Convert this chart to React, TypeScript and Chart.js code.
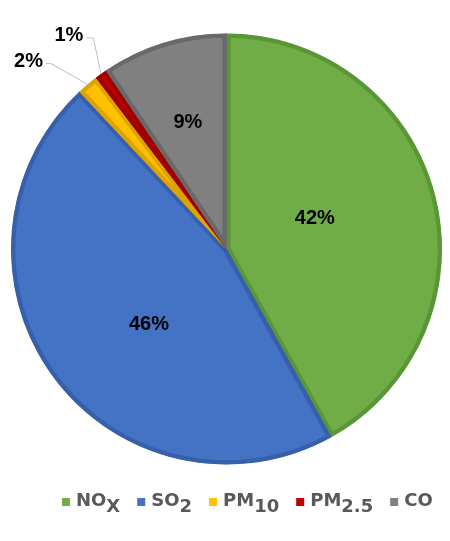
import React, { useEffect, useRef } from 'react';
import { Chart, registerables } from 'chart.js';

Chart.register(...registerables);

// ---- data ----
const categories = ['NOX', 'SO2', 'PM10', 'PM2.5', 'CO'];
const legendMain = ['NO', 'SO', 'PM', 'PM', 'CO'];
const legendSub = ['X', '2', '10', '2.5', ''];
const shares = [41.9, 46.15, 1.6, 0.9, 9.45];

// ---- styles ----
const fillColors = ['#70AD47', '#4472C4', '#FFC000', '#C00000', '#808080'];
const edgeColors = ['#5A9636', '#3760AB', '#DDA300', '#A00000', '#696969'];

// label placement: inside (radial fraction + angle tweak) or outside with leader line
const placements = [
  { mode: 'in', f: 0.433, da: -4.3 },
  { mode: 'in', f: 0.501, da: -8 },
  { mode: 'out', f: 1.185, da: -3.3, h: 5 },
  { mode: 'out', f: 1.158, da: 3.4, h: 7 },
  { mode: 'in', f: 0.613, da: 0 },
];

const labelPlugin = {
  id: 'pctLabels',
  afterDatasetsDraw(chart: any) {
    const ctx = chart.ctx;
    const meta = chart.getDatasetMeta(0);
    const data = chart.data.datasets[0].data as number[];
    const total = data.reduce((a, b) => a + b, 0);
    ctx.save();
    ctx.font = 'bold 20px "Liberation Sans", Arial, sans-serif';
    ctx.fillStyle = '#000000';
    meta.data.forEach((arc: any, i: number) => {
      const p: any = placements[i];
      const { x, y, startAngle, endAngle, outerRadius } = arc.getProps(
        ['x', 'y', 'startAngle', 'endAngle', 'outerRadius'],
        true
      );
      const mid = (startAngle + endAngle) / 2;
      const a = mid + (p.da * Math.PI) / 180;
      const text = Math.round((data[i] / total) * 100) + '%';
      if (p.mode === 'in') {
        const lx = x + Math.cos(a) * outerRadius * p.f;
        const ly = y + Math.sin(a) * outerRadius * p.f;
        ctx.textAlign = 'center';
        ctx.textBaseline = 'middle';
        ctx.fillText(text, lx, ly);
      } else {
        const ex = x + Math.cos(mid) * outerRadius;
        const ey = y + Math.sin(mid) * outerRadius;
        const bx = x + Math.cos(a) * outerRadius * p.f;
        const by = y + Math.sin(a) * outerRadius * p.f;
        ctx.strokeStyle = '#BFBFBF';
        ctx.lineWidth = 1;
        ctx.beginPath();
        ctx.moveTo(ex, ey);
        ctx.lineTo(bx, by);
        ctx.lineTo(bx - p.h, by);
        ctx.stroke();
        ctx.textAlign = 'right';
        ctx.textBaseline = 'middle';
        ctx.fillText(text, bx - p.h - 3, by - 2.5);
      }
    });
    ctx.restore();
  },
};

const legendPlugin = {
  id: 'subLegend',
  afterDraw(chart: any) {
    const ctx = chart.ctx;
    ctx.save();
    ctx.font = 'bold 18px "DejaVu Sans", Verdana, sans-serif';
    ctx.textAlign = 'left';
    ctx.textBaseline = 'alphabetic';
    let x = 62;
    const base = 506;
    categories.forEach((_, i) => {
      ctx.fillStyle = fillColors[i];
      ctx.fillRect(x, base - 8, 8, 8);
      x += 8 + 6;
      ctx.fillStyle = '#595959';
      ctx.fillText(legendMain[i], x, base);
      x += ctx.measureText(legendMain[i]).width;
      if (legendSub[i]) {
        ctx.fillText(legendSub[i], x, base + 5.5);
        x += ctx.measureText(legendSub[i]).width;
      }
      x += 17;
    });
    ctx.restore();
  },
};

export default function App() {
  const ref = useRef<HTMLCanvasElement>(null);
  useEffect(() => {
    if (!ref.current) return;
    const chart = new Chart(ref.current, {
      type: 'pie',
      data: {
        labels: categories,
        datasets: [
          {
            data: shares,
            backgroundColor: fillColors,
            borderColor: edgeColors,
            borderWidth: 4,
            hoverBorderWidth: 4,
            borderAlign: 'inner',
            hoverOffset: 0,
          } as any,
        ],
      },
      options: {
        responsive: false,
        animation: false,
        events: [],
        layout: { padding: { left: 11, right: 8, top: 33.5, bottom: 76.5 } },
        plugins: {
          legend: { display: false },
          tooltip: { enabled: false },
        },
      },
      plugins: [labelPlugin, legendPlugin],
    });
    return () => chart.destroy();
  }, []);
  return (
    <div style={{ position: 'fixed', left: 0, top: 0, width: 450, height: 541, background: '#ffffff' }}>
      <canvas ref={ref} width={450} height={541} style={{ display: 'block' }} />
    </div>
  );
}
